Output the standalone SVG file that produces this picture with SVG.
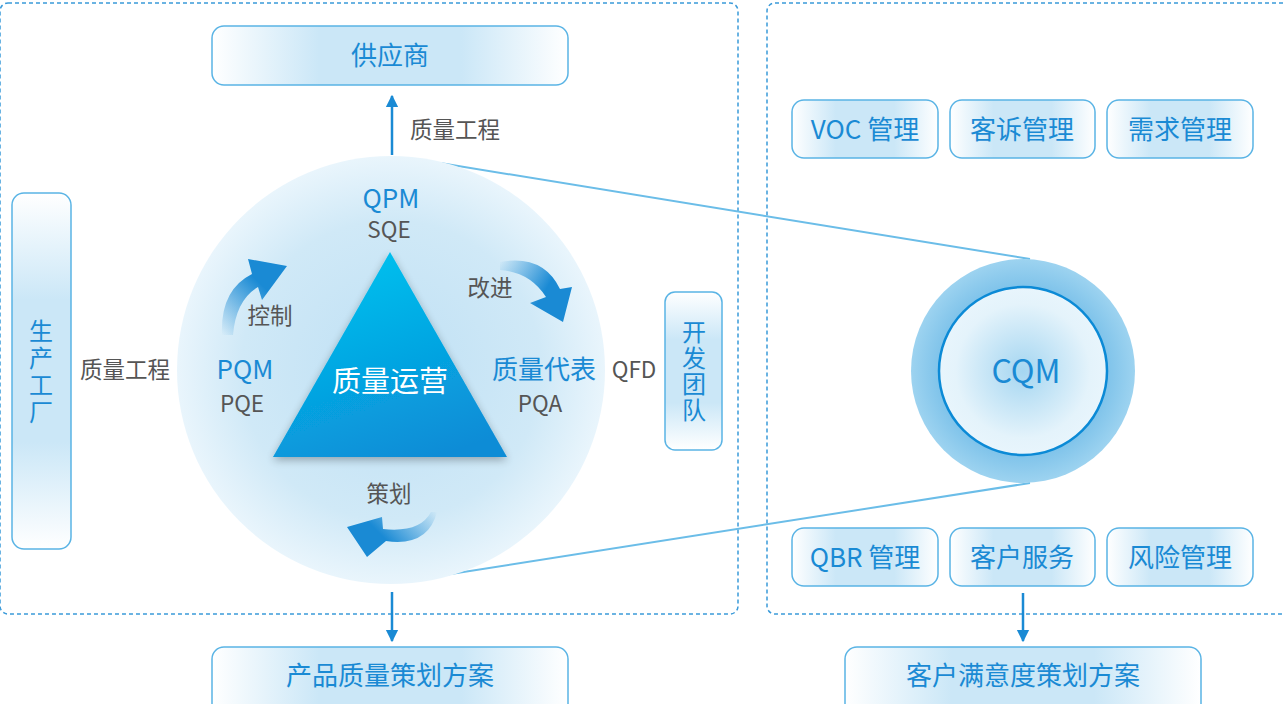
<svg xmlns="http://www.w3.org/2000/svg" width="1283" height="704" viewBox="0 0 1283 704">
<defs>
<style>
text{font-family:"Noto Sans CJK SC","Noto Sans",sans-serif;}
.nt{fill:#1a8ad4;font-size:26px;text-anchor:middle;}
.gt{fill:#555;font-size:22.5px;text-anchor:middle;}
.bt{fill:#1a8ad4;font-size:26px;text-anchor:middle;}
.vt{fill:#1a8ad4;font-size:24px;text-anchor:middle;writing-mode:vertical-rl;}
.box{fill:url(#hg);stroke:#5ab4e5;stroke-width:1.5;}
.vbox{fill:url(#vg);stroke:#5ab4e5;stroke-width:1.5;}
.dash{fill:none;stroke:#3a9ad9;stroke-width:1.5;stroke-dasharray:4 3;}
.arr{stroke:#1a8ad4;stroke-width:2.5;fill:none;}
.link{stroke:#6bbde8;stroke-width:2;fill:none;}
</style>
<linearGradient id="hg" x1="0" y1="0" x2="1" y2="0">
<stop offset="0" stop-color="#ffffff"/><stop offset="0.3" stop-color="#cbe7f7"/><stop offset="0.7" stop-color="#cbe7f7"/><stop offset="1" stop-color="#ffffff"/>
</linearGradient>
<linearGradient id="vg" x1="0" y1="0" x2="0" y2="1">
<stop offset="0" stop-color="#ffffff"/><stop offset="0.3" stop-color="#cbe7f7"/><stop offset="0.7" stop-color="#cbe7f7"/><stop offset="1" stop-color="#ffffff"/>
</linearGradient>
<radialGradient id="bigc" cx="0.5" cy="0.5" r="0.5">
<stop offset="0" stop-color="#bfe0f4"/><stop offset="0.7" stop-color="#d0e9f7"/><stop offset="1" stop-color="#e9f5fc"/>
</radialGradient>
<linearGradient id="tri" x1="0.3" y1="0" x2="0.7" y2="1">
<stop offset="0" stop-color="#00c2ef"/><stop offset="1" stop-color="#0a8cd6"/>
</linearGradient>
<radialGradient id="cqo" cx="0.5" cy="0.5" r="0.5">
<stop offset="0.75" stop-color="#7fc3ea"/><stop offset="1" stop-color="#9dd3f0"/>
</radialGradient>
<radialGradient id="cqi" cx="0.5" cy="0.5" r="0.5">
<stop offset="0" stop-color="#a5d6f1"/><stop offset="0.8" stop-color="#e4f3fb"/><stop offset="1" stop-color="#e8f5fc"/>
</radialGradient>
<linearGradient id="a1" x1="0" y1="1" x2="0.8" y2="0">
<stop offset="0" stop-color="#1a8ad4" stop-opacity="0"/><stop offset="0.7" stop-color="#1a8ad4"/>
</linearGradient>
<linearGradient id="a2" x1="0" y1="0" x2="1" y2="0.5">
<stop offset="0" stop-color="#1a8ad4" stop-opacity="0"/><stop offset="0.7" stop-color="#1a8ad4"/>
</linearGradient>
<linearGradient id="a3" x1="1" y1="0" x2="0" y2="0.5">
<stop offset="0" stop-color="#1a8ad4" stop-opacity="0"/><stop offset="0.7" stop-color="#1a8ad4"/>
</linearGradient>
<marker id="ah" viewBox="0 0 10 10" refX="9" refY="5" markerWidth="5" markerHeight="6" markerUnits="strokeWidth" orient="auto">
<path d="M0 0 L10 5 L0 10 Z" fill="#1a8ad4"/>
</marker>
<filter id="sh" x="-20%" y="-20%" width="140%" height="140%">
<feGaussianBlur in="SourceAlpha" stdDeviation="4"/><feOffset dx="0" dy="3"/>
<feComponentTransfer><feFuncA type="linear" slope="0.3"/></feComponentTransfer>
<feMerge><feMergeNode/><feMergeNode in="SourceGraphic"/></feMerge>
</filter>
</defs>
<rect width="1283" height="704" fill="#ffffff"/>
<g id="frames">
<rect class="dash" x="0" y="3" width="738" height="611" rx="8"/>
<rect class="dash" x="767" y="3" width="530" height="611" rx="8"/>
</g>
<g id="connectors">
<line class="link" x1="440" y1="163" x2="1030" y2="259"/>
<line class="link" x1="425" y1="578" x2="1030" y2="483"/>
<line class="arr" x1="392" y1="155" x2="392" y2="96" marker-end="url(#ah)"/>
<line class="arr" x1="392" y1="592" x2="392" y2="641" marker-end="url(#ah)"/>
<line class="arr" x1="1023" y1="593" x2="1023" y2="641" marker-end="url(#ah)"/>
<text class="gt" x="455" y="138">质量工程</text>
<text class="gt" x="125" y="378">质量工程</text>
<text class="gt" x="634" y="378">QFD</text>
</g>
<g id="supplier">
<rect class="box" x="212" y="26" width="356" height="59" rx="12"/>
<text class="bt" x="390" y="65">供应商</text>
</g>
<g id="plan1">
<rect class="box" x="212" y="647" width="356" height="70" rx="12"/>
<text class="bt" x="390" y="685">产品质量策划方案</text>
</g>
<g id="plan2">
<rect class="box" x="845" y="647" width="356" height="70" rx="12"/>
<text class="bt" x="1023" y="685">客户满意度策划方案</text>
</g>
<g id="factory">
<rect class="vbox" x="12" y="193" width="59" height="356" rx="12"/>
<text class="vt" x="41" y="373" letter-spacing="3">生产工厂</text>
</g>
<g id="devteam">
<rect class="vbox" x="665" y="292" width="57" height="158" rx="10"/>
<text class="vt" x="694" y="372" letter-spacing="2">开发团队</text>
</g>
<g id="qcircle">
<circle cx="391" cy="370" r="214" fill="url(#bigc)"/>
<path d="M390 252 L507 457 L273 457 Z" fill="url(#tri)" filter="url(#sh)"/>
<text x="390" y="392" fill="#ffffff" font-size="29" text-anchor="middle">质量运营</text>
<text class="nt" x="391" y="208">QPM</text>
<text class="gt" x="389" y="238">SQE</text>
<text class="nt" x="245" y="379">PQM</text>
<text class="gt" x="242" y="412">PQE</text>
<text class="nt" x="544" y="379">质量代表</text>
<text class="gt" x="540" y="412">PQA</text>
<text class="gt" x="490" y="296">改进</text>
<text class="gt" x="270" y="324">控制</text>
<text class="gt" x="389" y="502">策划</text>
<path d="M222 335 Q220 290 252 274 L248 259 L287 266 L262 300 L258 287 Q236 300 233 335 Z" fill="url(#a1)"/>
<path d="M500 262 Q543 254 560 289 L572 287 L563 322 L530 303 L546 297 Q530 272 500 270 Z" fill="url(#a2)"/>
<path d="M437 512 Q428 547 386 541 L367 557 L347 527 L382 517 L383 529 Q420 533 431 512 Z" fill="url(#a3)"/>
</g>
<g id="voc">
<rect class="box" x="792" y="100" width="146" height="58" rx="12"/>
<text class="bt" x="865" y="139">VOC 管理</text>
</g>
<g id="complaint">
<rect class="box" x="950" y="100" width="145" height="58" rx="12"/>
<text class="bt" x="1022" y="139">客诉管理</text>
</g>
<g id="demand">
<rect class="box" x="1107" y="100" width="146" height="58" rx="12"/>
<text class="bt" x="1180" y="139">需求管理</text>
</g>
<g id="qbr">
<rect class="box" x="792" y="528" width="146" height="58" rx="12"/>
<text class="bt" x="865" y="567">QBR 管理</text>
</g>
<g id="service">
<rect class="box" x="950" y="528" width="145" height="58" rx="12"/>
<text class="bt" x="1022" y="567">客户服务</text>
</g>
<g id="risk">
<rect class="box" x="1107" y="528" width="146" height="58" rx="12"/>
<text class="bt" x="1180" y="567">风险管理</text>
</g>
<g id="cqm">
<circle cx="1023" cy="371" r="112" fill="url(#cqo)"/>
<circle cx="1023" cy="371" r="84" fill="url(#cqi)" stroke="#0b8ad6" stroke-width="2.5"/>
<text x="1026" y="383" fill="#1a8ad4" font-size="32" text-anchor="middle">CQM</text>
</g>
</svg>
